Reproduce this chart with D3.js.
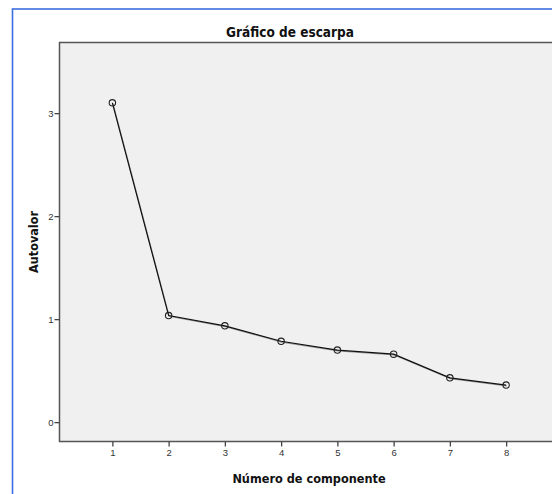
<!DOCTYPE html>
<html>
<head>
<meta charset="utf-8">
<script src="https://cdn.jsdelivr.net/npm/d3@7"></script>
<style>
  html, body { margin: 0; padding: 0; background: #fff; overflow: hidden; }
  svg { display: block; font-family: "DejaVu Sans Condensed", "DejaVu Sans", sans-serif; }
</style>
</head>
<body>
<div id="box-scree"></div>
<script>
// valores
var components = [1, 2, 3, 4, 5, 6, 7, 8];
var eigenvalues = [3.10, 1.035, 0.935, 0.785, 0.70, 0.66, 0.43, 0.36];
var yTicks = [0, 1, 2, 3];

var width = 552, height = 494;

var svg = d3.select("#box-scree").append("svg")
  .attr("width", width).attr("height", height);

// marco azul del visor
svg.append("rect")
  .attr("x", 12.5).attr("y", 9).attr("width", width + 20).attr("height", height + 20)
  .attr("fill", "none").attr("stroke", "#3d6fe0").attr("stroke-width", 1.6);

var plot = { left: 59.5, top: 42.5, right: 559, bottom: 441.5 };

var x = d3.scaleLinear().domain([0.06, 8.94]).range([plot.left, plot.right]);
var y = d3.scaleLinear().domain([-0.188, 3.686]).range([plot.bottom, plot.top]);

svg.append("rect")
  .attr("x", plot.left).attr("y", plot.top)
  .attr("width", plot.right - plot.left).attr("height", plot.bottom - plot.top)
  .attr("fill", "#f0f0f0").attr("stroke", "#555").attr("stroke-width", 1.5);

// ejes
var xAxis = d3.axisBottom(x).tickValues(components).tickSize(5).tickPadding(3).tickFormat(d3.format("d"));
var yAxis = d3.axisLeft(y).tickValues(yTicks).tickSize(5).tickPadding(1).tickFormat(d3.format("d"));

var gx = svg.append("g").attr("transform", "translate(0," + plot.bottom + ")").call(xAxis);
var gy = svg.append("g").attr("transform", "translate(" + plot.left + ",0)").call(yAxis);

[gx, gy].forEach(function(g){
  g.select(".domain").remove();
  g.selectAll(".tick line").attr("stroke", "#444").attr("stroke-width", 1.3);
  g.selectAll(".tick text").attr("fill", "#333").style("font-size", "9.5px");
});

// linea
var line = d3.line()
  .x(function(d, i){ return x(components[i]); })
  .y(function(d){ return y(d); });

svg.append("path")
  .datum(eigenvalues)
  .attr("d", line)
  .attr("transform", "translate(0.6,0.8)")
  .attr("fill", "none").attr("stroke", "#999").attr("stroke-width", 1.2);

svg.append("path")
  .datum(eigenvalues)
  .attr("d", line)
  .attr("fill", "none").attr("stroke", "#111").attr("stroke-width", 1.2);

svg.selectAll(".pt")
  .data(eigenvalues)
  .enter()
  .append("circle")
  .attr("class", "pt")
  .attr("cx", function(d, i){ return x(components[i]); })
  .attr("cy", function(d){ return y(d); })
  .attr("r", 3.2)
  .attr("fill", "none").attr("stroke", "#222").attr("stroke-width", 1.1);

// textos
svg.append("text")
  .attr("x", 290).attr("y", 36.5)
  .attr("text-anchor", "middle")
  .style("font-size", "13.5px").style("font-weight", "bold").attr("fill", "#111")
  .text("Gráfico de escarpa");

svg.append("text")
  .attr("x", 309).attr("y", 483)
  .attr("text-anchor", "middle")
  .style("font-size", "12.6px").style("font-weight", "bold").attr("fill", "#111")
  .text("Número de componente");

svg.append("text")
  .attr("transform", "translate(37.5,242) rotate(-90)")
  .attr("text-anchor", "middle")
  .style("font-size", "12.5px").style("font-weight", "bold").attr("fill", "#111")
  .text("Autovalor");
</script>
</body>
</html>
